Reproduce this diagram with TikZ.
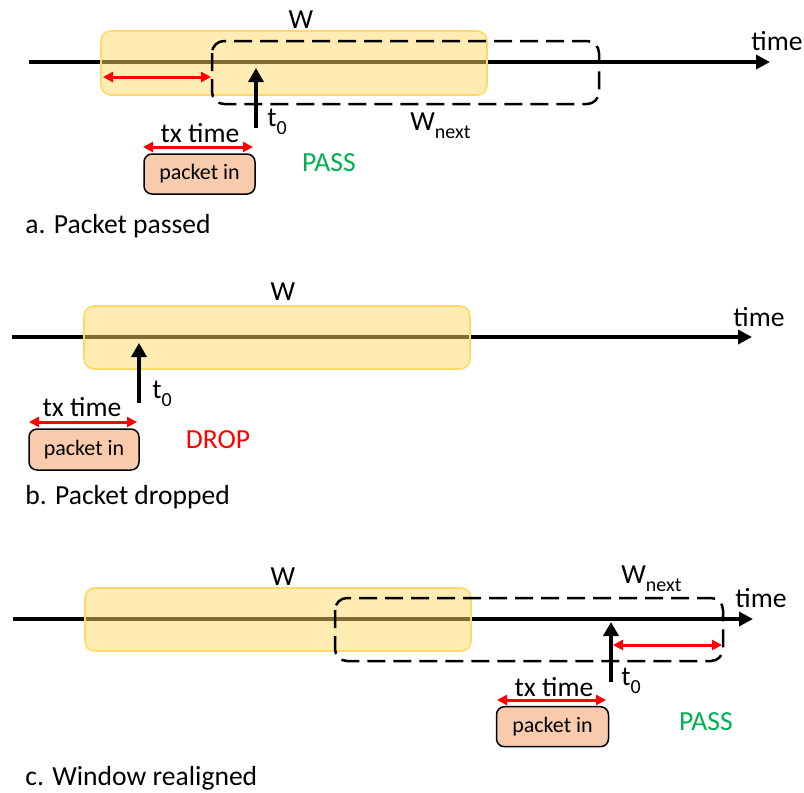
\documentclass[tikz,border=0pt]{standalone}
\usepackage{fontspec}
\setmainfont{Carlito}
\usetikzlibrary{arrows.meta}
\definecolor{winfill}{HTML}{FFD966}
\definecolor{pktfill}{HTML}{F8CBAD}
\definecolor{passgreen}{HTML}{00B050}
\newcommand\lowidx[1]{\raisebox{-0.6ex}{\fontsize{10}{11}\selectfont #1}}
\begin{document}
\begin{tikzpicture}[x=0.5pt,y=-0.5pt,
  axisline/.style={line width=2pt,-{Triangle[length=7pt,width=7pt]}},
  window/.style={fill=winfill,fill opacity=0.5,draw=winfill,line width=0.8pt,rounded corners=5pt},
  nextwin/.style={draw=black,line width=1.25pt,dash pattern=on 9pt off 4pt,rounded corners=6pt},
  span/.style={red,line width=1.5pt,{Triangle[length=5pt,width=5pt]}-{Triangle[length=5pt,width=5pt]}},
  tzero/.style={line width=2.25pt,-{Triangle[length=7pt,width=7.5pt]}},
  packet/.style={draw=black,fill=pktfill,line width=0.75pt,rounded corners=4pt,
    minimum width=55.5pt,minimum height=20pt,inner sep=0,font=\fontsize{11}{12}\selectfont},
  txt/.style={inner sep=0,font=\fontsize{13.8}{16}\selectfont},
  caption/.style={txt,anchor=west}]
\useasboundingbox (0,0) rectangle (804,793);

% ---------- a. Packet passed ----------
\coordinate (a0) at (29,62);
\coordinate (a1) at (770,62);
\draw[axisline] (a0) -- (a1);
\draw[window] (101,31) rectangle (487,95);
\draw[nextwin] (212,41) rectangle (599,104);
\coordinate (aws) at (103,77);
\coordinate (anx) at (211,77);
\draw[span] (aws) -- (anx);
\coordinate (atb) at (256,128);
\coordinate (att) at (256,68);
\draw[tzero] (atb) -- (att);
\node[txt] (aW) at (301,20) {W};
\node[txt,anchor=west] (aWn) at (410,126) {W\lowidx{next}};
\node[txt,anchor=west] (atime) at (751,41) {time};
\node[txt,anchor=west] (at0) at (267,122) {t\lowidx{0}};
\node[txt] (atx) at (200,133) {tx time};
\node[packet] (apkt) at (199.5,174) {packet in};
\draw[span] (143,147) coordinate (atxl) -- (253,147) coordinate (atxr);
\node[txt,text=passgreen] (apass) at (329,163) {PASS};
\node[caption] (acap) at (25,226) {a. Packet passed};

% ---------- b. Packet dropped ----------
\coordinate (b0) at (12,337);
\coordinate (b1) at (752,337);
\draw[axisline] (b0) -- (b1);
\draw[window] (84,306) rectangle (470,369);
\coordinate (btb) at (139,403);
\coordinate (btt) at (139,343);
\draw[tzero] (btb) -- (btt);
\node[txt] (bW) at (283,292) {W};
\node[txt,anchor=west] (btime) at (733,317) {time};
\node[txt,anchor=west] (bt0) at (152,394) {t\lowidx{0}};
\node[txt] (btx) at (82,407) {tx time};
\node[packet,minimum width=55pt,minimum height=20.5pt] (bpkt) at (84,449.5) {packet in};
\draw[span] (29,422) coordinate (btxl) -- (137,422) coordinate (btxr);
\node[txt,text=red] (bdrop) at (218,440) {DROP};
\node[caption] (bcap) at (25,497) {b. Packet dropped};

% ---------- c. Window realigned ----------
\coordinate (c0) at (13,619);
\coordinate (c1) at (753,619);
\draw[axisline] (c0) -- (c1);
\draw[window] (85,588) rectangle (471,651);
\draw[nextwin] (335,598) rectangle (723,661);
\coordinate (ctb) at (611,682);
\coordinate (ctt) at (611,622);
\draw[tzero] (ctb) -- (ctt);
\coordinate (cts) at (613,645);
\coordinate (cnx) at (722,645);
\draw[span] (cts) -- (cnx);
\node[txt] (cW) at (283,577) {W};
\node[txt,anchor=west] (cWn) at (621,579) {W\lowidx{next}};
\node[txt,anchor=west] (ctime) at (735,598) {time};
\node[txt,anchor=west] (ct0) at (621,681) {t\lowidx{0}};
\node[txt] (ctx) at (554,687) {tx time};
\node[packet,minimum width=56pt] (cpkt) at (552.5,726.7) {packet in};
\draw[span] (497,700) coordinate (ctxl) -- (606,700) coordinate (ctxr);
\node[txt,text=passgreen] (cpass) at (706,722) {PASS};
\node[caption] (ccap) at (25,778) {c. Window realigned};
\end{tikzpicture}
\end{document}
